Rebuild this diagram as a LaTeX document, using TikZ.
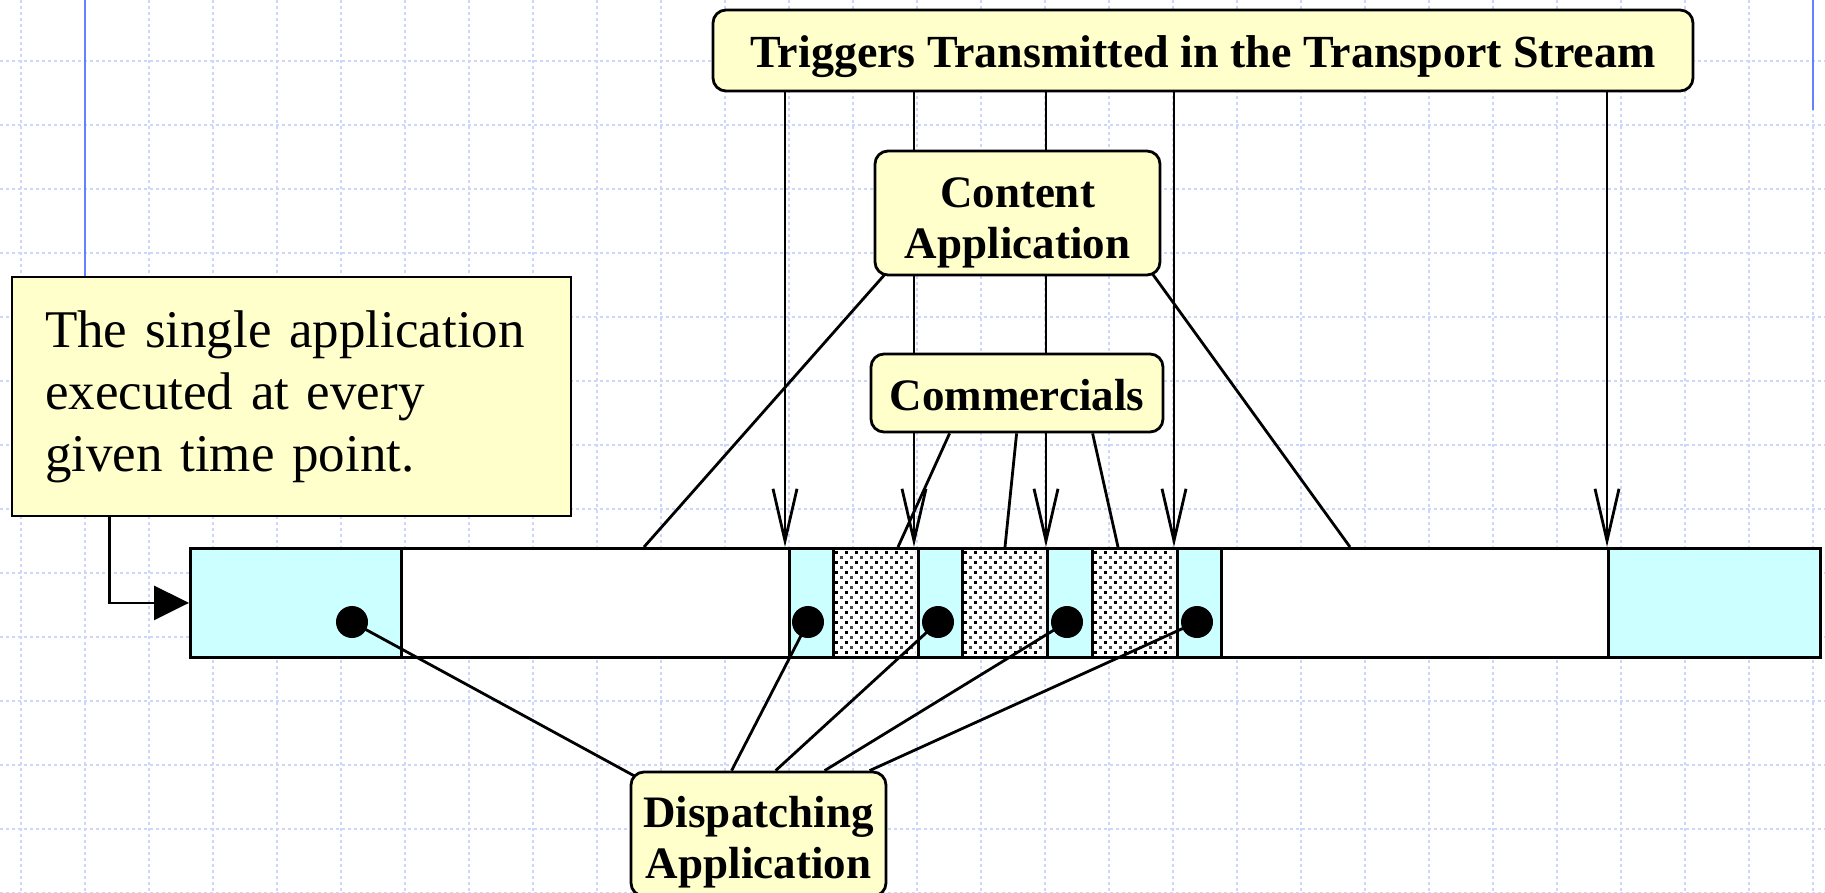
\documentclass[tikz,border=0pt]{standalone}
\usepackage{fontspec}
\setmainfont{Liberation Serif}
\usetikzlibrary{arrows.meta,calc}
\definecolor{boxyellow}{HTML}{FFFFCC}
\definecolor{segcyan}{HTML}{CCFFFF}
\definecolor{gridblue}{RGB}{205,215,250}
\definecolor{railblue}{RGB}{100,130,255}
\definecolor{dotgray}{RGB}{70,70,70}
\pgfdeclarelayer{bg}
\pgfdeclarelayer{conn}
\pgfdeclarelayer{displ}
\pgfdeclarelayer{dots}
\pgfsetlayers{bg,conn,main,displ,dots}
\tikzset{
  gridline/.style={draw=gridblue, line width=1.5pt, dash pattern=on 3pt off 3pt},
  rail/.style={draw=railblue, line width=2.5pt},
  lbl/.style={draw=black, fill=boxyellow, line width=2.8pt, rounded corners=13pt,
    inner sep=0pt, align=center, font=\fontsize{45}{51}\selectfont\bfseries},
  notebox/.style={draw=black, fill=boxyellow, line width=2.8pt, inner sep=0pt,
    align=left, font=\fontsize{53}{62}\selectfont},
  seg/.style={draw=black, line width=2.8pt, inner sep=0pt, minimum height=109pt, anchor=north west},
  cyanseg/.style={seg, fill=segcyan},
  whiteseg/.style={seg, fill=white},
  dotseg/.style={seg, fill=white},
  blob/.style={circle, fill=black, inner sep=0pt, minimum size=32pt},
  link/.style={draw=black, line width=2.8pt},
  trig/.style={link, -{Straight Barb[length=52pt,width=24pt,line width=2.8pt]}},
  elbow/.style={link, -{Triangle[length=35pt,width=34pt]}}
}
\begin{document}
\begin{tikzpicture}[x=1pt,y=-1pt]
\useasboundingbox (0,0) rectangle (1825,892);
% grid
\begin{pgfonlayer}{bg}
\fill[white] (0,0) rectangle (1825,892);
\foreach \x in {21,85,...,1813} \draw[gridline] (\x,0) -- (\x,892);
\foreach \y in {61,125,...,893} \draw[gridline] (0,\y) -- (1825,\y);
\draw[rail] (85,0) -- (85,277);
\draw[rail] (1813,0) -- (1813,110);
\end{pgfonlayer}

% bar segments
\node[cyanseg, minimum width=211pt] (c1) at (189,547) {};
\node[whiteseg, minimum width=388pt] (w1) at (400,547) {};
\node[cyanseg, minimum width=44pt] (c2) at (788,547) {};
\node[dotseg, minimum width=85pt] (p1) at (832,547) {};
\node[cyanseg, minimum width=44pt] (c3) at (917,547) {};
\node[dotseg, minimum width=85pt] (p2) at (961,547) {};
\node[cyanseg, minimum width=45pt] (c4) at (1046,547) {};
\node[dotseg, minimum width=85pt] (p3) at (1091,547) {};
\node[cyanseg, minimum width=44pt] (c5) at (1176,547) {};
\node[whiteseg, minimum width=387pt] (w2) at (1220,547) {};
\node[cyanseg, minimum width=212pt] (c6) at (1607,547) {};

% stipple in the commercial segments
\foreach \s/\x in {p1/832,p2/961,p3/1091} {
  \begin{scope}
    \clip (\x+2,549) rectangle (\x+83,654);
    \foreach \a in {0,...,8} \foreach \b in {0,...,10} {
      \fill[black] (\x+3+10*\a,551+10*\b) rectangle ++(2.7,2.7);
      \fill[dotgray] (\x+8+10*\a,556+10*\b) rectangle ++(2.7,2.7);
    }
  \end{scope}
}

% dots
\begin{pgfonlayer}{dots}
\node[blob] (d1) at (352,622) {};
\node[blob] (d2) at (808,622) {};
\node[blob] (d3) at (938,622) {};
\node[blob] (d4) at (1067,622) {};
\node[blob] (d5) at (1197,622) {};
\end{pgfonlayer}

% boxes
\node[lbl, minimum width=980pt, minimum height=81pt, font=\fontsize{46}{51}\selectfont\bfseries] (trigbox) at (1203,50.5) {\rule{0pt}{45pt}Triggers Transmitted in the Transport Stream};
\node[lbl, minimum width=285pt, minimum height=124pt] (content) at (1017.5,213) {\rule{0pt}{49pt}Content\\Application};
\node[lbl, minimum width=292pt, minimum height=78pt] (comm) at (1017,393) {\rule{0pt}{35pt}Commercials};
\node[notebox, minimum width=559pt, minimum height=239pt, text width=493pt, inner xsep=33pt] (note) at (291.5,396.5) {The single application\\executed at every\\given time point.};
\node[lbl, minimum width=255pt, minimum height=124pt] (disp) at (758.5,834) {\rule{0pt}{47pt}Dispatching\\Application};

% connectors behind the boxes
\begin{pgfonlayer}{conn}
\foreach \s/\dx in {c2/-3,c3/-3,c4/0,c5/-2,c6/0}
  \draw[trig] ($(trigbox.south -| \s.north west)+(\dx,0)$) -- ($(\s.north west)+(\dx,0)$);
\draw[link] ($(content.south west)+(13,-4)$) -- ($(w1.north west)+(244,0)$);
\draw[link] ($(content.south east)+(-10,-4)$) -- ($(w2.north west)+(130,0)$);
\draw[link] ($(comm.south west)+(80,0)$) -- ($(p1.north west)+(66,0)$);
\draw[link] ($(comm.south west)+(147,0)$) -- ($(p2.north west)+(44,0)$);
\draw[link] ($(comm.south west)+(223,0)$) -- ($(p3.north west)+(27,0)$);
\draw[elbow] ($(note.south west)+(99,0)$) |- (c1.west);
\end{pgfonlayer}

% dispatching links
\begin{pgfonlayer}{displ}
\draw[link] (d1.center) -- ($(disp.north west)+(6,6)$);
\draw[link] (d2.center) -- ($(disp.north west)+(102,0)$);
\draw[link] (d3.center) -- ($(disp.north west)+(146,0)$);
\draw[link] (d4.center) -- ($(disp.north west)+(195,0)$);
\draw[link] (d5.center) -- ($(disp.north west)+(240,0)$);
\end{pgfonlayer}
\end{tikzpicture}
\end{document}
